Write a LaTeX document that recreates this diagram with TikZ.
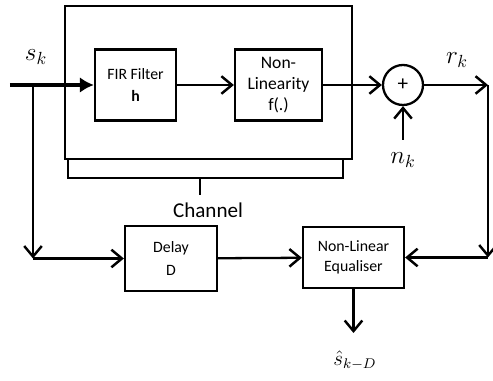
\documentclass[tikz,border=0pt]{standalone}
\usepackage{amsmath,amssymb}
\usepackage{fontspec}
\setmainfont{Carlito}
\usepackage{tikz}
\usetikzlibrary{calc,arrows.meta}

\tikzset{
  block/.style={draw, line width=1.3pt, align=center, font=\small, inner sep=2pt},
  sig/.style={line width=1.3pt, -{Straight Barb[length=6pt,width=10pt,line width=1.4pt]}},
  plain/.style={line width=1.3pt}
}

\begin{document}
\begin{tikzpicture}
\useasboundingbox (0,0) rectangle (9.86,7.62);

% channel box and its bracket
\draw [plain] (1.3,4.44) rectangle (7.04,7.5);
\draw [plain] (1.36,4.42) -- (1.36,4.06) -- (6.86,4.06) -- (6.86,4.42);
\draw [plain] (4.0,4.06) -- (4.0,3.72);
\node (chan) at (4.16,3.42) {\large Channel};

% blocks
\node [block, minimum width=1.62cm, minimum height=1.42cm] (fir) at (2.71,5.92) {FIR Filter\\[2pt] \textbf{h}};
\node [block, font=\normalsize, minimum width=1.74cm, minimum height=1.42cm] (nonlin) at (5.57,5.92) {Non-\\Linearity\\f(.)};
\node [draw, circle, line width=1.3pt, minimum size=0.8cm, inner sep=0pt] (sum) at (8.06,5.92) {\large +};
\node [block, minimum width=1.84cm, minimum height=1.3cm] (delay) at (3.42,2.45) {Delay\\[2pt] D};
\node [block, minimum width=2.02cm, minimum height=1.22cm] (equal) at (7.07,2.47) {Non-Linear\\Equaliser};

% free ends
\coordinate (in) at (0.2,5.92);
\coordinate (br) at (0.66,5.92);
\coordinate (c1) at (0.66,2.45);
\coordinate (out) at (9.76,5.92);
\coordinate (c2) at (9.76,2.47);
\coordinate (noise) at (8.06,4.82);
\coordinate (est) at (7.07,0.96);

% connectors
\draw [line width=2.6pt, -{Latex[length=8pt,width=9pt]}] (in) -- (fir);
\draw [sig] (fir) -- (nonlin);
\draw [sig] (nonlin) -- (sum);
\draw [sig] (sum) -- (out);
\draw [sig] (noise) -- (sum);
\draw [sig] (br) -- (c1);
\draw [sig] (c1) -- (delay);
\draw [sig] (out) -- (c2);
\draw [sig] (c2) -- (equal);
\draw [sig] (delay) -- (equal);
\draw [sig] (equal) -- (est);

% labels
\node (sk) at (0.72,6.48) {\Large $s_k$};
\node (rk) at (9.14,6.42) {\Large $r_k$};
\node (nk) at (8.06,4.42) {\Large $n_k$};
\node (shat) at (7.1,0.42) {\large $\hat{s}_{k-D}$};
\end{tikzpicture}
\end{document}
